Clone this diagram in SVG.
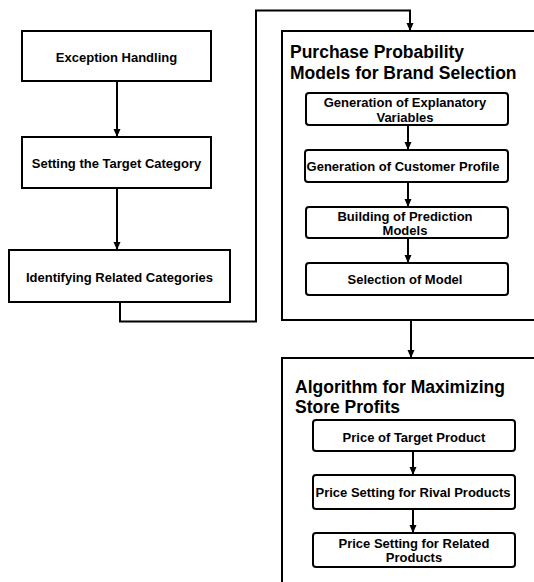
<svg xmlns="http://www.w3.org/2000/svg" width="534" height="582" viewBox="0 0 534 582">
  <style>
    .box { fill: #ffffff; stroke: #000000; stroke-width: 2; }
    .panel { fill: #ffffff; stroke: #000000; stroke-width: 2; }
    .lbl { font-family: "Liberation Sans", Arial, sans-serif; font-weight: bold; font-size: 13px; fill: #000000; text-anchor: middle; }
    .ttl { font-family: "Liberation Sans", Arial, sans-serif; font-weight: bold; font-size: 17.5px; fill: #000000; }
    .link { fill: none; stroke: #000000; stroke-width: 2; }
  </style>
  <defs>
    <marker id="arrow" viewBox="0 0 8 8" refX="8" refY="4" markerWidth="8" markerHeight="8" markerUnits="userSpaceOnUse" orient="auto">
      <path d="M0,0.5 L8,4 L0,7.5 Z" fill="#000000"/>
    </marker>
  </defs>

  <rect width="534" height="582" fill="#ffffff"/>

  <!-- left column: preparation steps -->
  <g id="exception-handling">
    <rect class="box" x="22" y="31" width="189" height="50"/>
    <text class="lbl" x="116.5" y="61.5">Exception Handling</text>
  </g>
  <g id="setting-target">
    <rect class="box" x="22" y="137" width="189" height="51"/>
    <text class="lbl" x="116.5" y="168">Setting the Target Category</text>
  </g>
  <g id="identifying-related">
    <rect class="box" x="9" y="250" width="221" height="52"/>
    <text class="lbl" x="119.5" y="281.5">Identifying Related Categories</text>
  </g>

  <!-- purchase probability panel -->
  <g id="purchase-panel">
    <path class="panel" d="M540,31 L282,31 L282,320 L540,320"/>
    <text class="ttl" x="290" y="58">Purchase Probability</text>
    <text class="ttl" x="290" y="79">Models for Brand Selection</text>
  </g>
  <g id="gen-explanatory">
    <rect class="box" x="306" y="93" width="202" height="32" rx="3"/>
    <text class="lbl" x="405" y="107">Generation of Explanatory</text>
    <text class="lbl" x="405" y="122">Variables</text>
  </g>
  <g id="gen-customer">
    <rect class="box" x="305" y="150" width="203" height="32" rx="3"/>
    <text class="lbl" x="403" y="170.5">Generation of Customer Profile</text>
  </g>
  <g id="building-models">
    <rect class="box" x="306" y="207" width="202" height="31" rx="3"/>
    <text class="lbl" x="405" y="220.5">Building of Prediction</text>
    <text class="lbl" x="405" y="235">Models</text>
  </g>
  <g id="selection-model">
    <rect class="box" x="306" y="263" width="202" height="32" rx="3"/>
    <text class="lbl" x="405" y="283.5">Selection of Model</text>
  </g>

  <!-- store profit panel -->
  <g id="profit-panel">
    <path class="panel" d="M540,358 L282,358 L282,590"/>
    <text class="ttl" x="295" y="393">Algorithm for Maximizing</text>
    <text class="ttl" x="295" y="413">Store Profits</text>
  </g>
  <g id="price-target">
    <rect class="box" x="313" y="420" width="202" height="31" rx="3"/>
    <text class="lbl" x="414" y="442">Price of Target Product</text>
  </g>
  <g id="price-rival">
    <rect class="box" x="313" y="475" width="202" height="34" rx="3"/>
    <text class="lbl" x="413" y="497">Price Setting for Rival Products</text>
  </g>
  <g id="price-related">
    <rect class="box" x="313" y="533" width="202" height="34" rx="3"/>
    <text class="lbl" x="414" y="547.5">Price Setting for Related</text>
    <text class="lbl" x="414" y="562">Products</text>
  </g>

  <!-- connectors -->
  <g id="connectors">
    <path class="link" d="M117,81 L117,137" marker-end="url(#arrow)"/>
    <path class="link" d="M117,188 L117,250" marker-end="url(#arrow)"/>
    <path class="link" d="M120,302 L120,321.5 L256,321.5 L256,10.5 L410,10.5 L410,31" marker-end="url(#arrow)"/>
    <path class="link" d="M408,125 L408,150" marker-end="url(#arrow)"/>
    <path class="link" d="M408,182 L408,207" marker-end="url(#arrow)"/>
    <path class="link" d="M408,238 L408,263" marker-end="url(#arrow)"/>
    <path class="link" d="M411,320 L411,358" marker-end="url(#arrow)"/>
    <path class="link" d="M413,451 L413,475" marker-end="url(#arrow)"/>
    <path class="link" d="M413,509 L413,533" marker-end="url(#arrow)"/>
  </g>
</svg>
